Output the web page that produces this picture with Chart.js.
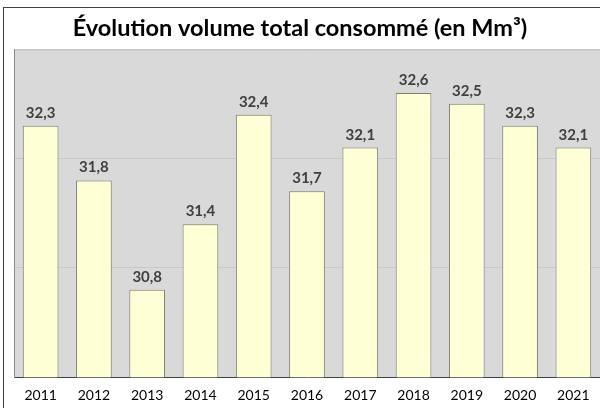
<!DOCTYPE html>
<html>
<head>
<meta charset="utf-8">
<script src="https://cdn.jsdelivr.net/npm/chart.js@4/dist/chart.umd.min.js"></script>
<style>
  html, body { margin: 0; padding: 0; background: #ffffff; overflow: hidden; }
  #wrap { position: absolute; left: 0; top: 0; width: 600px; height: 414px; }
</style>
</head>
<body>
<div id="wrap"><canvas id="c" width="600" height="414"></canvas></div>
<script>
const titleText = "Évolution volume total consommé (en Mm³)";
const years = ["2011","2012","2013","2014","2015","2016","2017","2018","2019","2020","2021"];
const volumes = [32.3, 31.8, 30.8, 31.4, 32.4, 31.7, 32.1, 32.6, 32.5, 32.3, 32.1];
const yMin = 30;
const yMax = 33;

const FONT = "Lato, 'Open Sans', sans-serif";

const framePlugin = {
  id: 'frame',
  beforeDraw(chart) {
    const ctx = chart.ctx;
    const a = chart.chartArea;
    ctx.save();
    ctx.fillStyle = '#ffffff';
    ctx.fillRect(0, 0, chart.width, chart.height);
    ctx.strokeStyle = '#404040';
    ctx.lineWidth = 1;
    ctx.strokeRect(3.5, 7.5, chart.width + 20, chart.height + 20);
    ctx.fillStyle = '#d9d9d9';
    ctx.fillRect(a.left, a.top, a.right - a.left, a.bottom - a.top);
    ctx.strokeStyle = '#a6a6a6';
    ctx.beginPath();
    ctx.moveTo(a.left, a.top + 0.5);
    ctx.lineTo(a.right, a.top + 0.5);
    ctx.stroke();
    ctx.restore();
  }
};

const labelPlugin = {
  id: 'barLabels',
  afterDatasetsDraw(chart) {
    const ctx = chart.ctx;
    const meta = chart.getDatasetMeta(0);
    ctx.save();
    ctx.font = "bold 15px " + FONT;
    ctx.fillStyle = '#404040';
    ctx.textAlign = 'center';
    ctx.textBaseline = 'alphabetic';
    meta.data.forEach((bar, i) => {
      const txt = volumes[i].toFixed(1).replace('.', ',');
      ctx.fillText(txt, bar.x, bar.y - 8);
    });
    ctx.restore();
  }
};

new Chart(document.getElementById('c'), {
  type: 'bar',
  data: {
    labels: years,
    datasets: [{
      data: volumes,
      backgroundColor: '#ffffd5',
      borderColor: '#7f7f6a',
      borderWidth: 1,
      borderSkipped: 'bottom',
      barPercentage: 1,
      categoryPercentage: 0.67
    }]
  },
  options: {
    responsive: false,
    animation: false,
    devicePixelRatio: 1,
    layout: { padding: { left: 0, right: 0, top: 0, bottom: 0 } },
    plugins: {
      legend: { display: false },
      tooltip: { enabled: false },
      title: {
        display: true,
        text: titleText,
        color: '#000000',
        font: { family: FONT, size: 23.5, weight: 'bold' },
        padding: { top: 14, bottom: 7 }
      }
    },
    scales: {
      x: {
        grid: { display: false, drawTicks: false },
        border: { display: true, color: '#404040', width: 1 },
        ticks: { color: '#000000', font: { family: FONT, size: 14 }, padding: 10 }
      },
      y: {
        min: yMin,
        max: yMax,
        afterFit(scale) { scale.width = 14; },
        ticks: { display: false, stepSize: 1 },
        grid: { color: '#c8c8c8', drawTicks: false },
        border: { display: true, color: '#8c8c8c', width: 1 }
      }
    }
  },
  plugins: [framePlugin, labelPlugin]
});
</script>
</body>
</html>
